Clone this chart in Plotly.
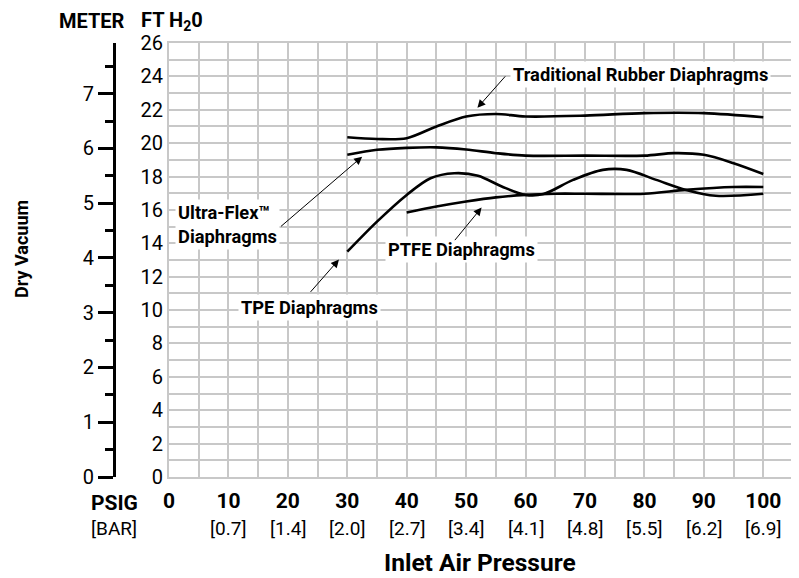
import plotly.graph_objects as go

# ---- data ----
psi_rubber = [30, 35, 40, 45, 50, 55, 60, 70, 80, 90, 100]
ft_rubber = [20.35, 20.25, 20.3, 21.0, 21.6, 21.75, 21.6, 21.65, 21.8, 21.8, 21.55]

psi_ultra = [30, 35, 40, 45, 50, 55, 60, 70, 80, 85, 90, 95, 100]
ft_ultra = [19.3, 19.6, 19.72, 19.75, 19.62, 19.4, 19.25, 19.25, 19.25, 19.4, 19.3, 18.8, 18.15]

psi_tpe = [30, 35, 40, 44, 48, 52, 56, 60, 63, 68, 73, 77, 82, 87, 92, 100]
ft_tpe = [13.5, 15.3, 16.9, 17.9, 18.2, 18.05, 17.4, 16.9, 16.95, 17.8, 18.4, 18.4, 17.8, 17.2, 16.85, 16.97]

psi_ptfe = [40, 45, 50, 55, 60, 65, 70, 80, 87, 95, 100]
ft_ptfe = [15.85, 16.2, 16.5, 16.75, 16.9, 16.97, 16.97, 16.97, 17.2, 17.37, 17.37]

psig_ticks = [0, 10, 20, 30, 40, 50, 60, 70, 80, 90, 100]
bar_labels = ["", "[0.7]", "[1.4]", "[2.0]", "[2.7]", "[3.4]", "[4.1]", "[4.8]", "[5.5]", "[6.2]", "[6.9]"]
ft_ticks = list(range(0, 27))
meter_ticks = [0, 1, 2, 3, 4, 5, 6, 7]
FT_PER_M = 3.28084

FONT = "Roboto, Liberation Sans, sans-serif"
GRID = "#c8c8c8"

# page body has an 8px margin, so the figure is a bit smaller than the window
OFF = 8
W, H = 799 - OFF, 578 - OFF
ML, MR, MT, MB = 10, 6, 35, 101
PW = W - ML - MR
PH = H - MT - MB


def px_x(s):
    # screen pixel -> paper fraction
    return (s - OFF - ML) / PW


def px_y(s):
    return (H - MB - (s - OFF)) / PH


fig = go.Figure()

for xs, ys in [(psi_rubber, ft_rubber), (psi_ultra, ft_ultra),
               (psi_tpe, ft_tpe), (psi_ptfe, ft_ptfe)]:
    fig.add_scatter(x=xs, y=ys, mode="lines", showlegend=False,
                    line={"color": "black", "width": 2.6, "shape": "spline", "smoothing": 0.9})

# invisible trace so the meter axis is drawn
fig.add_scatter(x=[0], y=[0], yaxis="y2", mode="markers", marker_opacity=0,
                showlegend=False, hoverinfo="skip")

# x tick labels: bold psig; [bar] line added below as annotations
x_tickvals = list(range(0, 101, 5))
x_ticktext = [f"<b>{v}</b>" if v in psig_ticks else "" for v in x_tickvals]

for v, b in zip(psig_ticks, bar_labels):
    if b:
        fig.add_annotation(x=v, y=px_y(528), xref="x", yref="paper", text=b,
                           showarrow=False, yanchor="middle",
                           font={"family": FONT, "size": 19, "color": "black"})

# ---- callout labels ----
labels = [
    # text, x, y, xanchor, tail (ax, ay), head (x, y)
    ("Traditional Rubber Diaphragms", 79.4, 24.09, "center", (56.8, 24.09), (51.9, 22.12)),
    ("Ultra-Flex™<br>Diaphragms", 1.0, 15.12, "left", (18.6, 14.94), (32.5, 19.19)),
    ("TPE Diaphragms", 23.6, 10.16, "center", (23.6, 11.0), (28.6, 13.03)),
    ("PTFE Diaphragms", 49.2, 13.63, "center", (47.9, 14.1), (52.6, 16.14)),
]
for text, tx, ty, xa, (ax, ay), (hx, hy) in labels:
    fig.add_annotation(x=tx, y=ty, text=f"<b>{text}</b>", showarrow=False, xanchor=xa,
                       align="left", bgcolor="white", borderpad=2,
                       font={"family": FONT, "size": 18.3, "color": "black"})
    fig.add_annotation(x=hx, y=hy, ax=ax, ay=ay, axref="x", ayref="y", text="",
                       showarrow=True, arrowhead=2, arrowsize=1.6, arrowwidth=1,
                       arrowcolor="black")

# ---- outer text ----
outer = [
    ("<b>METER</b>", 92, 21, 20, 0),
    ("<b>FT H<sub>2</sub>0</b>", 172, 21, 20, 0),
    ("<b>PSIG</b>", 114, 503, 21, 0),
    ("[BAR]", 114, 528, 19, 0),
    ("<b>Inlet Air Pressure</b>", 480, 562, 24.5, 0),
    ("<b>Dry Vacuum</b>", 21, 249, 18, -90),
]
for text, x, y, size, ang in outer:
    fig.add_annotation(x=px_x(x), y=px_y(y), xref="paper", yref="paper", text=text,
                       showarrow=False, textangle=ang, xanchor="center", yanchor="middle",
                       borderpad=0,
                       font={"family": FONT, "size": size, "color": "black"})

fig.update_layout(
    width=W, height=H,
    margin={"l": ML, "r": MR, "t": MT, "b": MB, "autoexpand": False},
    plot_bgcolor="white", paper_bgcolor="white",
    font={"family": FONT, "color": "black"},
    xaxis={
        "domain": [px_x(169), 1], "range": [0, 105], "automargin": False,
        "tickmode": "array", "tickvals": x_tickvals, "ticktext": x_ticktext,
        "tickfont": {"size": 21}, "ticks": "", "ticklabelstandoff": 4,
        "showgrid": True, "gridcolor": GRID, "gridwidth": 2, "zeroline": False,
        "showline": True, "linecolor": GRID, "linewidth": 2, "mirror": True,
    },
    yaxis={
        "range": [0, 26], "automargin": False,
        "tickmode": "array", "tickvals": ft_ticks,
        "ticktext": [str(v) if v % 2 == 0 else "" for v in ft_ticks],
        "tickfont": {"size": 20}, "ticks": "",
        "showgrid": True, "gridcolor": GRID, "gridwidth": 2, "zeroline": False,
        "showline": True, "linecolor": GRID, "linewidth": 2, "mirror": True,
    },
    yaxis2={
        "overlaying": "y", "anchor": "free", "position": px_x(114), "side": "left",
        "range": [0, 26 / FT_PER_M], "automargin": False,
        "tickmode": "array", "tickvals": meter_ticks, "tickfont": {"size": 20},
        "ticks": "outside", "ticklen": 15, "tickwidth": 3, "tickcolor": "black",
        "minor": {"tickmode": "array", "tickvals": [v + 0.5 for v in meter_ticks],
                  "ticks": "outside", "ticklen": 8, "tickwidth": 3, "tickcolor": "black"},
        "showline": True, "linecolor": "black", "linewidth": 3,
        "showgrid": False, "zeroline": False,
    },
)

fig.write_html("out.html")
